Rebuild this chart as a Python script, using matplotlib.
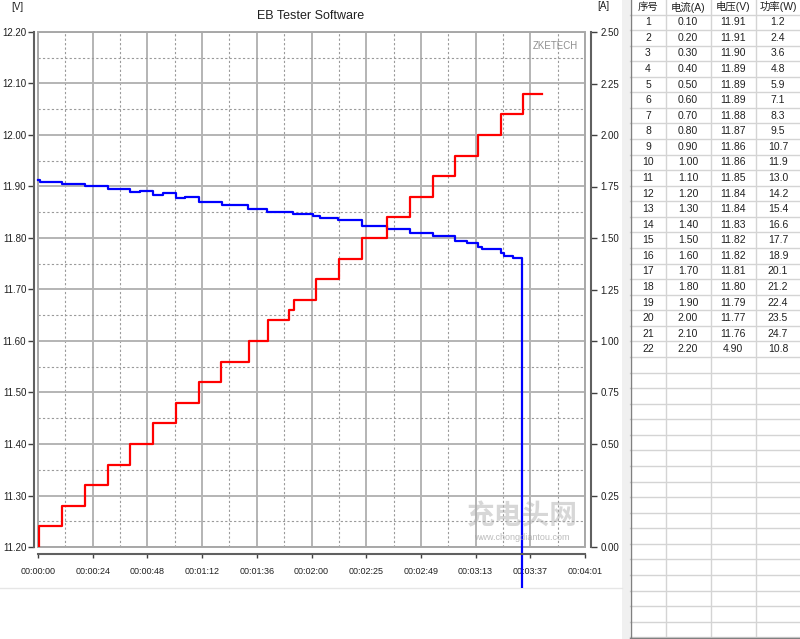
import matplotlib.pyplot as plt
from matplotlib.patches import Rectangle
from matplotlib.ticker import MultipleLocator, FormatStrFormatter
from matplotlib.transforms import Bbox, TransformedBbox

plt.rcParams['font.family'] = ['Liberation Sans', 'Noto Sans CJK SC', 'DejaVu Sans']

# voltage curve (time in s, volts)
t_volt = [0, 0.9, 10.6, 20.7, 30.8, 40.5, 44.9, 50.7, 55.1, 60.8, 64.8, 70.9, 81.1,
          92.5, 100.9, 112.3, 121.2, 124.2, 132.2, 142.7, 153.8, 163.9, 174.0,
          183.7, 189.0, 193.9, 195.6, 204.0, 205.5, 209.3, 213.3]
v_volt = [11.913, 11.908, 11.905, 11.901, 11.895, 11.889, 11.892, 11.883, 11.887,
          11.878, 11.880, 11.870, 11.864, 11.856, 11.851, 11.847, 11.843, 11.838,
          11.834, 11.824, 11.817, 11.809, 11.803, 11.795, 11.790, 11.783, 11.779,
          11.770, 11.765, 11.761, 4.90]

# current steps (time in s, amps)
t_curr = [0, 0.4, 10.6, 20.7, 30.8, 40.5, 50.7, 60.8, 70.9, 80.6, 93.0, 101.3,
          110.6, 112.8, 122.5, 132.6, 142.7, 153.8, 163.9, 174.0, 183.7, 193.9,
          204.0, 213.7, 222.1]
i_curr = [0, 0.10, 0.20, 0.30, 0.40, 0.50, 0.60, 0.70, 0.80, 0.90, 1.00, 1.10,
          1.15, 1.20, 1.30, 1.40, 1.50, 1.60, 1.70, 1.80, 1.90, 2.00, 2.10, 2.20, 2.20]

xtick_s = [0, 24.1, 48.2, 72.3, 96.4, 120.5, 144.6, 168.7, 192.8, 216.9, 241]
xtick_lbl = ['00:00:00', '00:00:24', '00:00:48', '00:01:12', '00:01:36', '00:02:00',
             '00:02:25', '00:02:49', '00:03:13', '00:03:37', '00:04:01']

tab_head = ['序号', '电流(A)', '电压(V)', '功率(W)']
tab_no = list(range(1, 23))
tab_i = [0.10, 0.20, 0.30, 0.40, 0.50, 0.60, 0.70, 0.80, 0.90, 1.00, 1.10,
         1.20, 1.30, 1.40, 1.50, 1.60, 1.70, 1.80, 1.90, 2.00, 2.10, 2.20]
tab_v = [11.91, 11.91, 11.90, 11.89, 11.89, 11.89, 11.88, 11.87, 11.86, 11.86, 11.85,
         11.84, 11.84, 11.83, 11.82, 11.82, 11.81, 11.80, 11.79, 11.77, 11.76, 4.90]
tab_p = [1.2, 2.4, 3.6, 4.8, 5.9, 7.1, 8.3, 9.5, 10.7, 11.9, 13.0,
         14.2, 15.4, 16.6, 17.7, 18.9, 20.1, 21.2, 22.4, 23.5, 24.7, 10.8]

W, H = 800, 639
fig = plt.figure(figsize=(W / 100, H / 100), dpi=100)

# pixel-coordinate background layer
bg = fig.add_axes([0, 0, 1, 1], zorder=-5)
bg.set_xlim(0, W)
bg.set_ylim(H, 0)
bg.axis('off')
bg.add_patch(Rectangle((622, 0), 8, H, color='#f0f0f0', lw=0))
bg.plot([0, 622], [588, 588], color='#e6e6e6', lw=1)
bg.text(17, 7, '[V]', fontsize=7, color='#202020', ha='center', va='center')
bg.text(603, 6, '[A]', fontsize=7, color='#202020', ha='center', va='center')
bg.text(311, 16, 'EB Tester Software', fontsize=9, color='#202020', ha='center', va='center')

# table
col_x = [630, 666, 711, 756, 800]
col_c = [648, 688, 733, 778]
row_h = 15.57
for k in range(41):
    y = 14.5 + k * row_h
    bg.plot([630, 800], [y, y], color='#d4d4d4', lw=1)
for x in col_x[1:-1]:
    bg.plot([x, x], [0, 637], color='#d4d4d4', lw=1)
bg.plot([630.5, 630.5], [0, 638], color='#808080', lw=1)
bg.plot([630, 800], [637.5, 637.5], color='#808080', lw=1)
for c, h in zip(col_c, tab_head):
    bg.text(c, 7, h, fontsize=7.5, color='#202020', ha='center', va='center')
for r in range(len(tab_no)):
    y = 22.3 + r * row_h
    vals = [str(tab_no[r]), '%.2f' % tab_i[r], '%.2f' % tab_v[r], '%.1f' % tab_p[r]]
    for c, s in zip(col_c, vals):
        bg.text(c, y, s, fontsize=7.5, color='#202020', ha='center', va='center')

# main chart
ax = fig.add_axes([38 / W, (H - 547) / H, 547 / W, 515 / H])
ax.set_facecolor('white')
ax.set_xlim(0, 241)
ax.set_ylim(11.2, 12.2)
ax.set_xticks(xtick_s)
ax.set_xticklabels(xtick_lbl)
ax.set_xticks([(a + b) / 2 for a, b in zip(xtick_s[:-1], xtick_s[1:])], minor=True)
ax.yaxis.set_major_locator(MultipleLocator(0.1))
ax.yaxis.set_minor_locator(MultipleLocator(0.05))
ax.yaxis.set_major_formatter(FormatStrFormatter('%.2f'))
ax.grid(which='major', color='#b4b4b4', lw=1.4)
ax.grid(which='minor', color='#9a9a9a', lw=0.8, ls=(0, (2, 2)))
ax.set_axisbelow(True)
ax.tick_params(which='minor', length=0)
ax.tick_params(axis='y', length=4, width=1, pad=1.5, labelsize=7, color='#404040', labelcolor='#202020')
ax.tick_params(axis='x', length=3, width=1, pad=6.5, labelsize=6.5, color='#404040', labelcolor='#202020')
for s in ['top', 'right']:
    ax.spines[s].set_visible(False)
ax.spines['left'].set_position(('outward', 3))
ax.spines['bottom'].set_position(('outward', 5))
for s in ['left', 'bottom']:
    ax.spines[s].set_color('#606060')
    ax.spines[s].set_linewidth(1.5)
ax.add_patch(Rectangle((0, 0), 1, 1, transform=ax.transAxes, fill=False,
                       ec='#a8a8a8', lw=1.4, clip_on=False))
ax.text(0.988, 0.973, 'ZKETECH', transform=ax.transAxes, fontsize=7,
        color='#909090', ha='right', va='center')

ln, = ax.plot(t_volt, v_volt, drawstyle='steps-post', color='#0000ff', lw=1.6)
ln.set_clip_path(None)
ln.set_clip_box(TransformedBbox(Bbox([[0, (H - 588) / H], [622 / W, 1]]), fig.transFigure))

ax2 = ax.twinx()
ax2.set_ylim(0, 2.5)
ax2.yaxis.set_major_locator(MultipleLocator(0.25))
ax2.yaxis.set_major_formatter(FormatStrFormatter('%.2f'))
for s in ['top', 'left', 'bottom']:
    ax2.spines[s].set_visible(False)
ax2.spines['right'].set_position(('outward', 4))
ax2.spines['right'].set_color('#606060')
ax2.spines['right'].set_linewidth(1.5)
ax2.tick_params(axis='y', length=4, width=1, pad=3, labelsize=7, color='#404040', labelcolor='#202020')
ax2.plot(t_curr, i_curr, drawstyle='steps-post', color='#ff0000', lw=1.6)

# watermark
top = fig.add_axes([0, 0, 1, 1], zorder=10)
top.set_xlim(0, W)
top.set_ylim(H, 0)
top.axis('off')
top.patch.set_visible(False)
top.text(522, 517, '充电头网', fontsize=20, fontweight='bold', color='#b0b0b0',
         alpha=0.5, ha='center', va='center')
top.text(522, 538, 'www.chongdiantou.com', fontsize=6.5, color='#a0a0a0',
         alpha=0.7, ha='center', va='center')

fig.savefig('out.png', dpi=100, facecolor='white')
